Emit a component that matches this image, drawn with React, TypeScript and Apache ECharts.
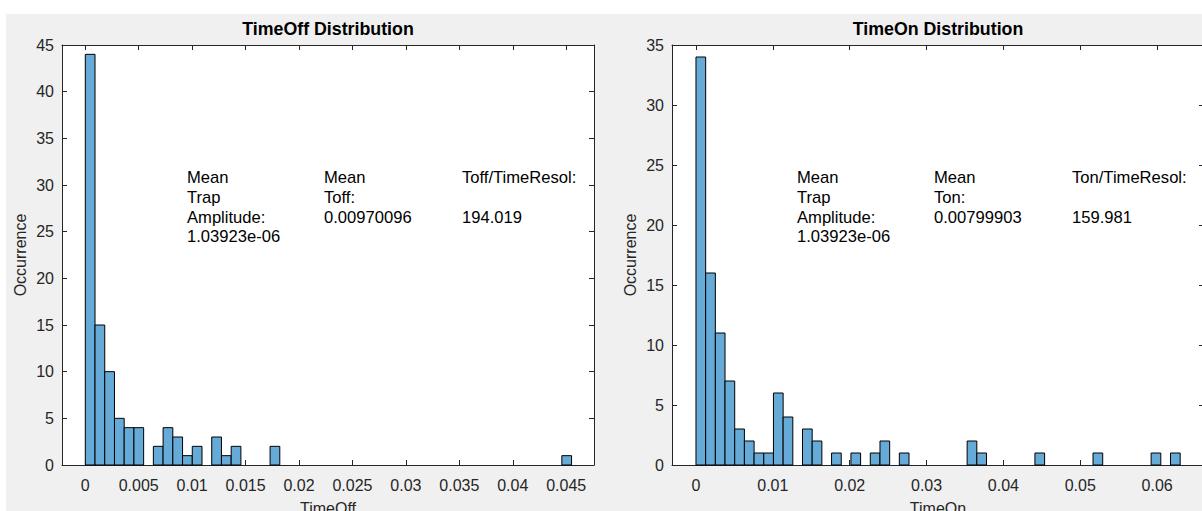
import React, { useEffect, useRef } from "react";
import * as echarts from "echarts";

// ---- data ----
const offBinStart = 0;
const offBinWidth = 0.00091;
const offCounts = [
  44, 15, 10, 5, 4, 4, 0, 2, 4, 3, 1, 2, 0, 3, 1, 2, 0, 0, 0, 2,
  0, 0, 0, 0, 0, 0, 0, 0, 0, 0, 0, 0, 0, 0, 0, 0, 0, 0, 0, 0,
  0, 0, 0, 0, 0, 0, 0, 0, 0, 1,
];
const onBinStart = 0;
const onBinWidth = 0.00126;
const onCounts = [
  34, 16, 11, 7, 3, 2, 1, 1, 6, 4, 0, 3, 2, 0, 1, 0, 1, 0, 1, 2,
  0, 1, 0, 0, 0, 0, 0, 0, 2, 1, 0, 0, 0, 0, 0, 1, 0, 0, 0, 0,
  0, 1, 0, 0, 0, 0, 0, 1, 0, 1,
];
const offXTicks = [0, 0.005, 0.01, 0.015, 0.02, 0.025, 0.03, 0.035, 0.04, 0.045];
const onXTicks = [0, 0.01, 0.02, 0.03, 0.04, 0.05, 0.06];
const offYMax = 45;
const onYMax = 35;
const offXRange = [-0.00218, 0.0476];
const onXRange = [-0.00312, 0.0661];

const FONT = "'Liberation Sans', Arial, Helvetica, sans-serif";
const AX = "#262626";
const FILL = "#66AAD7";

function binsToData(start: number, width: number, counts: number[]) {
  const out: number[][] = [];
  counts.forEach((c, i) => {
    if (c > 0) out.push([start + i * width, start + (i + 1) * width, c]);
  });
  return out;
}

const fmt = (v: number) => (v === 0 ? "0" : String(parseFloat(Number(v).toFixed(4))));

function xAxes(gridIndex: number, range: number[], ticks: number[], name: string) {
  const base = {
    type: "value",
    gridIndex,
    min: range[0],
    max: range[1],
    splitLine: { show: false },
    axisLine: { show: true, onZero: false, lineStyle: { color: AX, width: 1 } },
  };
  return [
    {
      ...base,
      position: "bottom",
      name,
      nameLocation: "middle",
      nameGap: 35,
      nameTextStyle: { fontFamily: FONT, fontSize: 16, color: AX },
      axisTick: { show: true, inside: true, length: 5, customValues: ticks, lineStyle: { color: AX } },
      axisLabel: {
        show: true,
        customValues: ticks,
        formatter: fmt,
        margin: 12,
        fontFamily: FONT,
        fontSize: 16,
        color: AX,
      },
    },
    {
      ...base,
      position: "top",
      axisTick: { show: true, inside: true, length: 5, customValues: ticks, lineStyle: { color: AX } },
      axisLabel: { show: false },
    },
  ];
}

function yAxes(gridIndex: number, max: number) {
  const base = {
    type: "value",
    gridIndex,
    min: 0,
    max,
    interval: 5,
    splitLine: { show: false },
    axisLine: { show: true, onZero: false, lineStyle: { color: AX, width: 1 } },
    axisTick: { show: true, inside: true, length: 5, lineStyle: { color: AX } },
  };
  return [
    {
      ...base,
      position: "left",
      name: "Occurrence",
      nameLocation: "middle",
      nameGap: 34,
      nameTextStyle: { fontFamily: FONT, fontSize: 16, color: AX },
      axisLabel: { show: true, margin: 8, fontFamily: FONT, fontSize: 16, color: AX },
    },
    { ...base, position: "right", axisLabel: { show: false } },
  ];
}

function histSeries(xAxisIndex: number, yAxisIndex: number, data: number[][]) {
  return {
    type: "custom",
    xAxisIndex,
    yAxisIndex,
    encode: { x: [0, 1], y: 2 },
    data,
    renderItem: (_params: any, api: any) => {
      const p0 = api.coord([api.value(0), api.value(2)]);
      const p1 = api.coord([api.value(1), 0]);
      return {
        type: "rect",
        shape: { x: p0[0], y: p0[1], width: p1[0] - p0[0], height: p1[1] - p0[1] },
        style: { fill: FILL, stroke: "#000", lineWidth: 1 },
      };
    },
  };
}

function noteText(x: number, text: string) {
  return {
    type: "text",
    x,
    y: 168,
    style: {
      text,
      fontFamily: FONT,
      fontSize: 16.6,
      lineHeight: 19.6,
      fill: "#000",
      textAlign: "left",
      textVerticalAlign: "top",
    },
  };
}

function titleText(x: number, text: string) {
  return {
    type: "text",
    x,
    y: 29,
    style: {
      text,
      fontFamily: FONT,
      fontSize: 17.8,
      fontWeight: "bold",
      fill: "#000",
      textAlign: "center",
      textVerticalAlign: "middle",
    },
  };
}

export default function App() {
  const ref = useRef<HTMLDivElement>(null);
  useEffect(() => {
    if (!ref.current) return;
    const chart = echarts.init(ref.current, null, { renderer: "svg" });
    chart.setOption({
      animation: false,
      backgroundColor: "#f0f0f0",
      grid: [
        {
          left: 62, top: 45, width: 532, height: 420,
          show: true, backgroundColor: "#fff", borderWidth: 0,
          outerBoundsMode: "none", containLabel: false,
        },
        {
          left: 672, top: 45, width: 532, height: 420,
          show: true, backgroundColor: "#fff", borderWidth: 0,
          outerBoundsMode: "none", containLabel: false,
        },
      ],
      xAxis: [
        ...xAxes(0, offXRange, offXTicks, "TimeOff"),
        ...xAxes(1, onXRange, onXTicks, "TimeOn"),
      ],
      yAxis: [...yAxes(0, offYMax), ...yAxes(1, onYMax)],
      series: [
        histSeries(0, 0, binsToData(offBinStart, offBinWidth, offCounts)),
        histSeries(2, 2, binsToData(onBinStart, onBinWidth, onCounts)),
      ],
      graphic: [
        { type: "rect", shape: { x: 0, y: 0, width: 1202, height: 14 }, style: { fill: "#fff" }, silent: true },
        { type: "rect", shape: { x: 0, y: 0, width: 6, height: 511 }, style: { fill: "#fff" }, silent: true },
        titleText(328, "TimeOff Distribution"),
        titleText(938, "TimeOn Distribution"),
        noteText(187, "Mean\nTrap\nAmplitude:\n1.03923e-06"),
        noteText(324, "Mean\nToff:\n0.00970096"),
        noteText(462, "Toff/TimeResol:\n\n194.019"),
        noteText(797, "Mean\nTrap\nAmplitude:\n1.03923e-06"),
        noteText(934, "Mean\nTon:\n0.00799903"),
        noteText(1072, "Ton/TimeResol:\n\n159.981"),
      ],
    });
    return () => chart.dispose();
  }, []);
  return (
    <div
      ref={ref}
      style={{ position: "absolute", left: 0, top: 0, width: 1202, height: 511, overflow: "hidden" }}
    />
  );
}
